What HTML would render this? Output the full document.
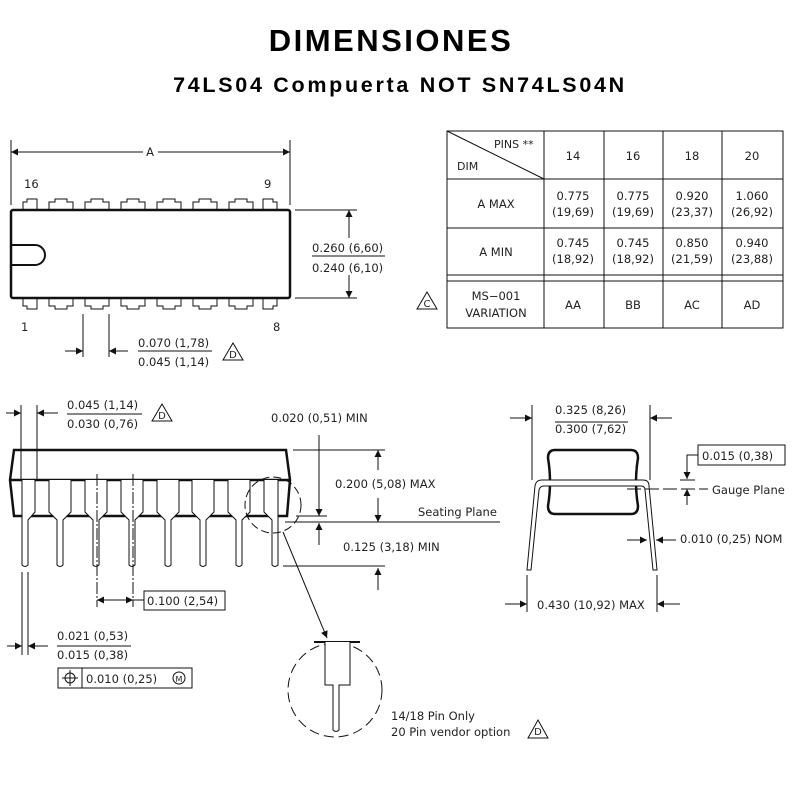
<!DOCTYPE html>
<html><head><meta charset="utf-8"><style>
html,body{margin:0;padding:0;background:#fff;width:800px;height:800px;overflow:hidden}
svg{display:block}
.t{font-family:"DejaVu Sans","Liberation Sans",sans-serif;font-size:11.5px;fill:#222}
</style></head><body>
<svg width="800" height="800" viewBox="0 0 800 800" xmlns="http://www.w3.org/2000/svg">
<defs>
<marker id="a" viewBox="0 0 10 10" refX="10" refY="5" markerWidth="9" markerHeight="7" orient="auto-start-reverse" markerUnits="userSpaceOnUse"><path d="M0,0 L10,5 L0,10z" fill="#111"/></marker>
</defs>
<text x="391" y="51" text-anchor="middle" font-family="Liberation Sans, sans-serif" font-weight="bold" font-size="31" letter-spacing="2.5" fill="#000">DIMENSIONES</text>
<text x="400" y="92" text-anchor="middle" font-family="Liberation Sans, sans-serif" font-weight="bold" font-size="21.5" letter-spacing="2.7" fill="#000">74LS04 Compuerta NOT SN74LS04N</text>

<g stroke="#111" fill="none" stroke-width="1">
<!-- TOP VIEW -->
<line x1="11" y1="140" x2="11" y2="205"/><line x1="290" y1="140" x2="290" y2="205"/>
<line x1="11" y1="152" x2="143" y2="152" marker-start="url(#a)"/><line x1="158" y1="152" x2="290" y2="152" marker-end="url(#a)"/>
<rect x="11" y="210" width="279" height="88" rx="2" stroke-width="2.5"/>
<path d="M11,245 H35 A10,10 0 0 1 35,265 H11" stroke-width="2"/>
<path d="M23,210 V202 H27 V199 H37 V210"/>
<path d="M49,210 V202 H55 V199 H67 V202 H73 V210"/>
<path d="M85,210 V202 H91 V199 H103 V202 H109 V210"/>
<path d="M121,210 V202 H127 V199 H139 V202 H145 V210"/>
<path d="M157,210 V202 H163 V199 H175 V202 H181 V210"/>
<path d="M193,210 V202 H199 V199 H211 V202 H217 V210"/>
<path d="M229,210 V202 H235 V199 H247 V202 H253 V210"/>
<path d="M263,210 V199 H273 V202 H277 V210"/>
<path d="M23,298 V306 H27 V309 H37 V298"/>
<path d="M49,298 V306 H55 V309 H67 V306 H73 V298"/>
<path d="M85,298 V306 H91 V309 H103 V306 H109 V298"/>
<path d="M121,298 V306 H127 V309 H139 V306 H145 V298"/>
<path d="M157,298 V306 H163 V309 H175 V306 H181 V298"/>
<path d="M193,298 V306 H199 V309 H211 V306 H217 V298"/>
<path d="M229,298 V306 H235 V309 H247 V306 H253 V298"/>
<path d="M263,298 V309 H273 V306 H277 V298"/>
<line x1="295" y1="210" x2="357" y2="210"/><line x1="295" y1="298" x2="357" y2="298"/>
<line x1="349" y1="238" x2="349" y2="210" marker-end="url(#a)"/><line x1="349" y1="275" x2="349" y2="298" marker-end="url(#a)"/>
<line x1="312" y1="256" x2="385" y2="256"/>
<line x1="83" y1="314" x2="83" y2="357"/><line x1="109" y1="314" x2="109" y2="357"/>
<line x1="65" y1="351" x2="83" y2="351" marker-end="url(#a)"/><line x1="128" y1="351" x2="109" y2="351" marker-end="url(#a)"/>
<line x1="138" y1="351" x2="212" y2="351"/>
<path d="M233,343 L243,360 H223 Z"/>

<!-- TABLE -->
<rect x="447" y="131" width="336" height="197"/>
<line x1="544" y1="131" x2="544" y2="328"/><line x1="604" y1="131" x2="604" y2="328"/><line x1="663" y1="131" x2="663" y2="328"/><line x1="722" y1="131" x2="722" y2="328"/>
<line x1="447" y1="179" x2="783" y2="179"/><line x1="447" y1="228" x2="783" y2="228"/><line x1="447" y1="275" x2="783" y2="275"/><line x1="447" y1="281" x2="783" y2="281"/>
<line x1="447" y1="131" x2="544" y2="179"/>
<path d="M427,292 L437,309 H417 Z"/>

<!-- SIDE VIEW -->
<path d="M14,450 H286 L290,480 L287,516 H14 L10,480 Z" stroke-width="2.5"/>
<line x1="10" y1="480" x2="290" y2="480" stroke-width="2.5"/>
<g fill="#fff">
<path d="M35,480 V512 L28,520 V565 Q25,568 22,565 V480"/>
<path d="M49,480 V512 L57,520 V565 Q60,568 63,565 V520 L71,512 V480"/>
<path d="M85,480 V512 L93,520 V565 Q96,568 99,565 V520 L107,512 V480"/>
<path d="M121,480 V512 L129,520 V565 Q132,568 135,565 V520 L143,512 V480"/>
<path d="M157,480 V512 L165,520 V565 Q168,568 171,565 V520 L179,512 V480"/>
<path d="M192,480 V512 L200,520 V565 Q203,568 206,565 V520 L214,512 V480"/>
<path d="M228,480 V512 L236,520 V565 Q239,568 242,565 V520 L250,512 V480"/>
<path d="M264,480 V512 L272,520 V565 Q275,568 278,565 V480"/>
</g>
<line x1="97" y1="474" x2="97" y2="607" stroke-dasharray="12,2,2,2"/><line x1="133" y1="474" x2="133" y2="607" stroke-dasharray="12,2,2,2"/>
<line x1="97" y1="600" x2="133" y2="600" marker-start="url(#a)" marker-end="url(#a)"/>
<line x1="133" y1="600" x2="144" y2="600"/>
<rect x="144" y="591" width="81" height="19"/>
<line x1="21" y1="405" x2="21" y2="480"/><line x1="37" y1="405" x2="37" y2="480"/>
<line x1="6" y1="413" x2="21" y2="413" marker-end="url(#a)"/><line x1="58" y1="413" x2="37" y2="413" marker-end="url(#a)"/>
<line x1="67" y1="414" x2="142" y2="414"/>
<path d="M162,404 L172,421 H152 Z"/>
<line x1="22" y1="572" x2="22" y2="655"/><line x1="28" y1="572" x2="28" y2="655"/>
<line x1="7" y1="646" x2="22" y2="646" marker-end="url(#a)"/><line x1="48" y1="646" x2="28" y2="646" marker-end="url(#a)"/>
<line x1="57" y1="646" x2="131" y2="646"/>
<rect x="58" y="668" width="134" height="20"/><line x1="82" y1="668" x2="82" y2="688"/>
<circle cx="70" cy="678" r="5"/><line x1="62" y1="678" x2="78" y2="678"/><line x1="70" y1="670" x2="70" y2="686"/>
<circle cx="179" cy="678" r="6"/>
<line x1="293" y1="450" x2="385" y2="450"/>
<line x1="378" y1="470" x2="378" y2="450" marker-end="url(#a)"/><line x1="378" y1="498" x2="378" y2="522" marker-end="url(#a)"/>
<line x1="319" y1="435" x2="319" y2="516" marker-end="url(#a)"/>
<line x1="296" y1="516" x2="327" y2="516"/>
<line x1="285" y1="522" x2="500" y2="522"/>
<line x1="319" y1="545" x2="319" y2="523" marker-end="url(#a)"/>
<line x1="283" y1="566" x2="385" y2="566"/>
<line x1="378" y1="590" x2="378" y2="568" marker-end="url(#a)"/>
<circle cx="273" cy="505" r="28" stroke-dasharray="8,4"/>
<line x1="283" y1="532" x2="327" y2="638" marker-end="url(#a)"/>
<circle cx="335" cy="690" r="47" stroke-dasharray="10,5"/>
<line x1="314" y1="642" x2="360" y2="642" stroke-width="2"/>
<path d="M325,642 V685 H333 V730 Q336,733 339,730 V685 H350 V642" fill="#fff"/>
<path d="M538,720 L548,738 H528 Z"/>

<!-- END VIEW -->
<path d="M555,450 H631 Q638,450 638,458 Q634,482 638,506 Q638,514 631,514 H555 Q548,514 548,506 Q552,482 548,458 Q548,450 555,450 Z" stroke-width="2.5"/>
<path d="M527,570 L535,486 Q536,480 542,480 H643 Q649,480 649,486 L657,570 H653 L645,490 Q645,486 641,486 H544 Q540,486 539,490 L531,570 Z" fill="#fff"/>
<line x1="532" y1="405" x2="532" y2="480"/><line x1="650" y1="405" x2="650" y2="480"/>
<line x1="510" y1="418" x2="532" y2="418" marker-end="url(#a)"/><line x1="672" y1="418" x2="650" y2="418" marker-end="url(#a)"/>
<line x1="555" y1="422" x2="628" y2="422"/>
<rect x="698" y="445" width="87" height="20"/>
<polyline points="698,455 687,455 687,479" marker-end="url(#a)"/>
<line x1="687" y1="505" x2="687" y2="489" marker-end="url(#a)"/>
<line x1="627" y1="489" x2="708" y2="489" stroke-dasharray="14,4"/>
<line x1="680" y1="480" x2="695" y2="480"/>
<line x1="627" y1="540" x2="647" y2="540" marker-end="url(#a)"/><line x1="676" y1="540" x2="656" y2="540" marker-end="url(#a)"/>
<line x1="527" y1="575" x2="527" y2="612"/><line x1="657" y1="575" x2="657" y2="612"/>
<line x1="505" y1="604" x2="527" y2="604" marker-end="url(#a)"/><line x1="680" y1="604" x2="657" y2="604" marker-end="url(#a)"/>
</g>

<g class="t">
<text x="150" y="156" text-anchor="middle">A</text>
<text x="24" y="188">16</text><text x="264" y="188">9</text>
<text x="21" y="331">1</text><text x="273" y="331">8</text>
<text x="312" y="252">0.260 (6,60)</text><text x="312" y="272">0.240 (6,10)</text>
<text x="138" y="347">0.070 (1,78)</text><text x="138" y="366">0.045 (1,14)</text>
<text x="233" y="358" font-size="10" text-anchor="middle">D</text>
<text x="427" y="307" font-size="10" text-anchor="middle">C</text>

<text x="494" y="148" font-size="11">PINS **</text>
<text x="457" y="170" font-size="11">DIM</text>
<text x="573" y="160" text-anchor="middle">14</text><text x="633" y="160" text-anchor="middle">16</text><text x="692" y="160" text-anchor="middle">18</text><text x="752" y="160" text-anchor="middle">20</text>
<text x="496" y="208" text-anchor="middle">A   MAX</text>
<text x="496" y="256" text-anchor="middle">A   MIN</text>
<text x="573" y="200" text-anchor="middle">0.775</text><text x="573" y="216" text-anchor="middle">(19,69)</text>
<text x="633" y="200" text-anchor="middle">0.775</text><text x="633" y="216" text-anchor="middle">(19,69)</text>
<text x="692" y="200" text-anchor="middle">0.920</text><text x="692" y="216" text-anchor="middle">(23,37)</text>
<text x="752" y="200" text-anchor="middle">1.060</text><text x="752" y="216" text-anchor="middle">(26,92)</text>
<text x="573" y="247" text-anchor="middle">0.745</text><text x="573" y="263" text-anchor="middle">(18,92)</text>
<text x="633" y="247" text-anchor="middle">0.745</text><text x="633" y="263" text-anchor="middle">(18,92)</text>
<text x="692" y="247" text-anchor="middle">0.850</text><text x="692" y="263" text-anchor="middle">(21,59)</text>
<text x="752" y="247" text-anchor="middle">0.940</text><text x="752" y="263" text-anchor="middle">(23,88)</text>
<text x="496" y="300" text-anchor="middle">MS−001</text><text x="496" y="317" text-anchor="middle">VARIATION</text>
<text x="573" y="309" text-anchor="middle">AA</text><text x="633" y="309" text-anchor="middle">BB</text><text x="692" y="309" text-anchor="middle">AC</text><text x="752" y="309" text-anchor="middle">AD</text>

<text x="67" y="409">0.045 (1,14)</text><text x="67" y="428">0.030 (0,76)</text>
<text x="162" y="419" font-size="10" text-anchor="middle">D</text>
<text x="271" y="422">0.020 (0,51) MIN</text>
<text x="335" y="488">0.200 (5,08) MAX</text>
<text x="418" y="516">Seating Plane</text>
<text x="343" y="551">0.125 (3,18) MIN</text>
<text x="147" y="605">0.100 (2,54)</text>
<text x="57" y="640">0.021 (0,53)</text><text x="57" y="659">0.015 (0,38)</text>
<text x="86" y="683">0.010 (0,25)</text>
<text x="179" y="682" font-size="8" text-anchor="middle">M</text>
<text x="391" y="720">14/18 Pin Only</text>
<text x="391" y="736">20 Pin vendor option</text>
<text x="538" y="735" font-size="10" text-anchor="middle">D</text>

<text x="555" y="414">0.325 (8,26)</text><text x="555" y="433">0.300 (7,62)</text>
<text x="702" y="460">0.015 (0,38)</text>
<text x="712" y="494">Gauge Plane</text>
<text x="680" y="543">0.010 (0,25) NOM</text>
<text x="537" y="609">0.430 (10,92) MAX</text>
</g>
</svg>
</body></html>
